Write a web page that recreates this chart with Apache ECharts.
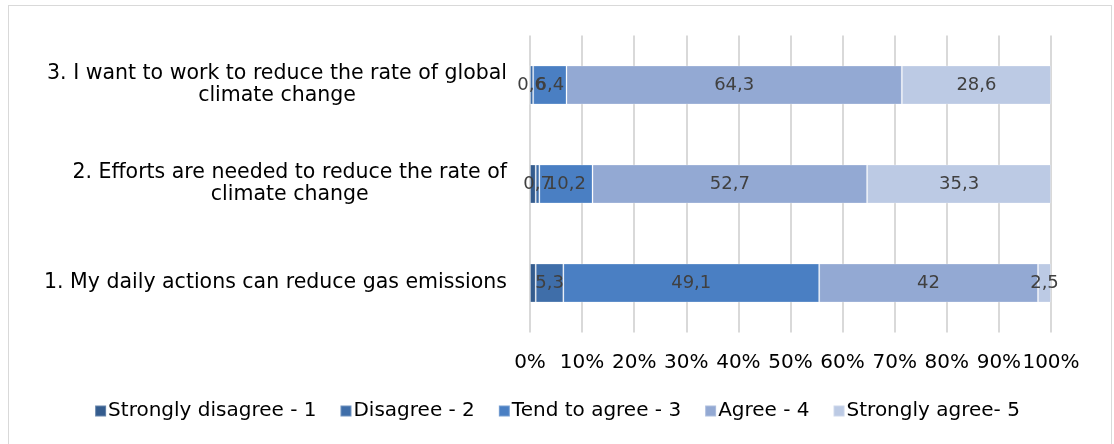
<!DOCTYPE html>
<html>
<head>
<meta charset="utf-8">
<script src="https://cdn.jsdelivr.net/npm/echarts@6/dist/echarts.min.js"></script>
<style>
  html, body { margin: 0; padding: 0; background: #fff; }
  #main { width: 1114px; height: 444px; position: relative; }
  #frame { position: absolute; left: 8px; top: 5px; width: 1104px; height: 445px; border: 1px solid #d9d9d9; box-sizing: border-box; pointer-events: none; }
</style>
</head>
<body>
<div id="main"></div>
<div id="frame"></div>
<script>
// statements, bottom to top
const categories = [
  ['1. My daily actions can reduce gas emissions'],
  ['2. Efforts are needed to reduce the rate of', 'climate change'],
  ['3. I want to work to reduce the rate of global', 'climate change']
];
const seriesNames = ['Strongly disagree - 1', 'Disagree - 2', 'Tend to agree - 3', 'Agree - 4', 'Strongly agree- 5'];
const stronglyDisagree = [1.1, 1.1, 0];
const disagree = [5.3, 0.7, 0.6];
const tendToAgree = [49.1, 10.2, 6.4];
const agree = [42, 52.7, 64.3];
const stronglyAgree = [2.5, 35.3, 28.6];
const xTicks = ['0%', '10%', '20%', '30%', '40%', '50%', '60%', '70%', '80%', '90%', '100%'];

const colors = ['#345c8e', '#3f6ea9', '#4a7fc3', '#93a9d3', '#bccae4'];
const raw = [stronglyDisagree, disagree, tendToAgree, agree, stronglyAgree];
const FONT = 'DejaVu Sans';

// 100% stacked: scale each row to its total
const totals = categories.map((c, i) => raw.reduce((s, arr) => s + arr[i], 0));

const chart = echarts.init(document.getElementById('main'));

const series = raw.map((arr, k) => ({
  name: seriesNames[k],
  type: 'bar',
  stack: 'all',
  barWidth: 39,
  itemStyle: { color: colors[k], borderColor: 'rgba(255,255,255,0.25)', borderWidth: 1 },
  label: {
    show: k > 0,
    position: 'inside',
    color: '#404040',
    fontSize: 18,
    fontFamily: FONT,
    formatter: p => {
      const v = arr[p.dataIndex];
      return v ? String(v).replace('.', ',') : '';
    }
  },
  data: arr.map((v, i) => v / totals[i] * 100)
}));

chart.setOption({
  animation: false,
  textStyle: { fontFamily: FONT },
  grid: { left: 530, right: 63, top: 35.5, height: 297 },
  legend: {
    data: seriesNames,
    top: 396,
    left: 'center',
    itemWidth: 11,
    itemHeight: 11,
    itemGap: 23,
    icon: 'rect',
    textStyle: { fontSize: 20, color: '#000', fontFamily: FONT, padding: [0, 0, 0, -3] }
  },
  xAxis: {
    type: 'value',
    min: 0,
    max: 100,
    interval: 10,
    axisLine: { show: false },
    axisTick: { show: false },
    splitLine: { lineStyle: { color: '#d9d9d9', width: 2 } },
    axisLabel: {
      fontSize: 20,
      color: '#000',
      fontFamily: FONT,
      margin: 20,
      formatter: v => xTicks[Math.round(v / 10)]
    }
  },
  yAxis: {
    type: 'category',
    data: categories.map(c => c.join('\n')),
    axisLine: { show: false },
    axisTick: { show: false },
    axisLabel: {
      align: 'right',
      margin: 23,
      formatter: (v, i) => categories[i].map(l => '{a|' + l + '}').join('\n'),
      rich: {
        a: { fontSize: 20.5, color: '#000', align: 'center', lineHeight: 22, fontFamily: FONT }
      }
    }
  },
  series: series
});
</script>
</body>
</html>
